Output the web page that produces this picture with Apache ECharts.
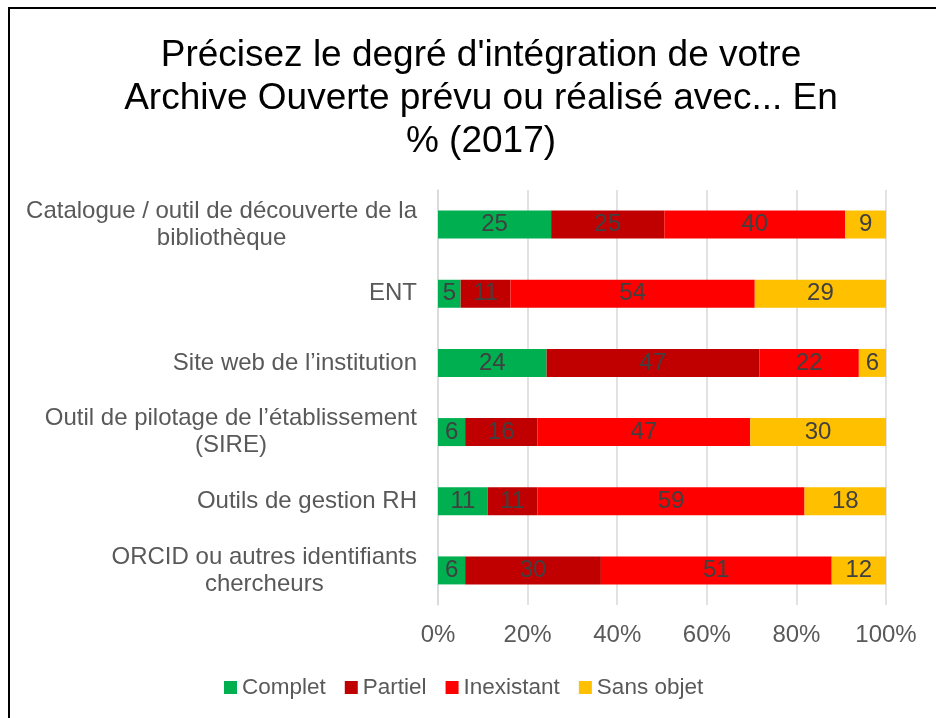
<!DOCTYPE html>
<html>
<head>
<meta charset="utf-8">
<style>
    html, body { margin: 0; padding: 0; background: #fff; overflow: hidden; }
    #frame { position: absolute; left: 8px; top: 7px; width: 1200px; height: 1200px; border: 2px solid #000; box-sizing: border-box; }
    #main { position: absolute; left: 0; top: 0; width: 936px; height: 718px; }
</style>
</head>
<body>
<div id="frame"></div>
<div id="main"></div>
<script src="https://cdn.jsdelivr.net/npm/echarts@6/dist/echarts.min.js"></script>
<script type="text/javascript">
    // catégories (de haut en bas)
    var categories = [
        'Catalogue / outil de découverte de la\nbibliothèque',
        'ENT',
        'Site web de l\u2019institution',
        'Outil de pilotage de l\u2019établissement\n(SIRE)',
        'Outils de gestion RH',
        'ORCID ou autres identifiants\nchercheurs'
    ];
    var complet    = [25, 5, 24, 6, 11, 6];
    var partiel    = [25, 11, 47, 16, 11, 30];
    var inexistant = [40, 54, 22, 47, 59, 51];
    var sansObjet  = [9, 29, 6, 30, 18, 12];
    var xTicks = [0, 20, 40, 60, 80, 100];

    var seriesNames = ['Complet', 'Partiel', 'Inexistant', 'Sans objet'];
    var seriesColors = ['#00B050', '#C00000', '#FF0000', '#FFC000'];
    var seriesValues = [complet, partiel, inexistant, sansObjet];

    // empilé à 100 % : chaque barre est ramenée au total de la ligne
    var totals = categories.map(function (c, i) {
        return complet[i] + partiel[i] + inexistant[i] + sansObjet[i];
    });

    var font = '"Liberation Sans", Arial, sans-serif';

    var series = seriesNames.map(function (name, k) {
        return {
            name: name,
            type: 'bar',
            stack: 'total',
            barWidth: 28,
            itemStyle: { color: seriesColors[k] },
            label: {
                show: true,
                position: 'inside',
                color: '#404040',
                fontSize: 24,
                fontFamily: font,
                formatter: function (p) { return seriesValues[k][p.dataIndex]; }
            },
            data: seriesValues[k].map(function (v, i) { return v / totals[i] * 100; })
        };
    });

    var myChart = echarts.init(document.getElementById('main'));
    myChart.setOption({
        animation: false,
        textStyle: { fontFamily: font },
        title: {
            text: 'Précisez le degré d\'intégration de votre\nArchive Ouverte prévu ou réalisé avec... En\n% (2017)',
            left: 476,
            top: 29,
            textAlign: 'center',
            textStyle: { fontSize: 37, fontWeight: 'normal', color: '#000', lineHeight: 43, fontFamily: font }
        },
        legend: {
            left: 219,
            top: 671,
            itemWidth: 13,
            itemHeight: 13,
            itemGap: 19,
            icon: 'rect',
            textStyle: { fontSize: 22.5, color: '#595959', fontFamily: font },
            data: seriesNames
        },
        grid: { left: 438, right: 50, top: 190, bottom: 113, containLabel: false },
        xAxis: {
            type: 'value',
            min: xTicks[0],
            max: xTicks[xTicks.length - 1],
            interval: 20,
            axisLine: { show: false },
            axisTick: { show: false },
            axisLabel: { fontSize: 24, color: '#595959', margin: 18, formatter: '{value}%' },
            splitLine: { lineStyle: { color: '#d9d9d9', width: 1.5 } }
        },
        yAxis: {
            type: 'category',
            inverse: true,
            data: categories,
            axisLine: { lineStyle: { color: '#d9d9d9', width: 1.5 } },
            axisTick: { show: false },
            axisLabel: {
                margin: 21,
                formatter: function (v) {
                    return v.split('\n').map(function (s) { return '{c|' + s + '}'; }).join('\n');
                },
                rich: {
                    c: { fontSize: 24, color: '#595959', lineHeight: 27, align: 'center', fontFamily: font }
                }
            }
        },
        series: series
    });
</script>
</body>
</html>
